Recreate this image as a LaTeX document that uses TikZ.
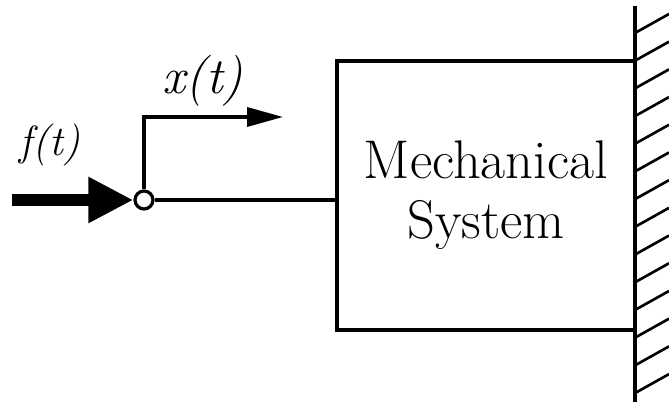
\documentclass[tikz,border=0pt]{standalone}
\usepackage{tikz}
\usetikzlibrary{arrows.meta, positioning, calc}

\begin{document}
\begin{tikzpicture}[
  sysbox/.style={draw, line width=1.8pt, minimum width=5.96cm, minimum height=5.38cm,
              font=\fontsize{31}{34}\selectfont, align=center},
  junc/.style={draw, circle, fill=white, line width=1.8pt, minimum size=0.36cm, inner sep=0pt},
  sig/.style={line width=1.8pt},
  arr/.style={-{Triangle[length=0.72cm, width=0.38cm]}, line width=2pt},
  bigarr/.style={-{Triangle[length=0.9cm, width=0.86cm]}, line width=6.8pt},
  lbl/.style={font=\fontsize{29}{34}\selectfont\itshape, inner sep=0pt},
  wall/.style={line width=2.4pt},
  hatch/.style={line width=1.5pt}
]
  \useasboundingbox (0,0) rectangle (13.38,8.06);

  % Block
  \node[sysbox] (sys) at (9.72,4.15) {Mechanical\\System};

  % Input force and displacement
  \node[junc] (jn) at (2.88,4.06) {};
  \coordinate (fin) at (0.24,4.06);
  \coordinate (xend) at (5.66,5.72);

  \draw[bigarr] (fin) -- (jn);
  \draw[sig] (jn) -- (jn -| sys.west);
  \draw[arr] (jn) |- (xend);

  \node[lbl] (xlbl) at (4.06,6.44) {x(t)};
  \node[lbl, font=\fontsize{24}{28}\selectfont\itshape] (flbl) at (1.0,5.16) {f(t)};

  % Wall
  \coordinate (wtop) at (12.70,7.94);
  \coordinate (wbot) at (12.70,0.02);
  \draw[wall] (wtop) -- (wbot);
  \foreach \k in {0,...,13}
    \draw[hatch] ($(12.70,7.40)-(0,0.554*\k)$) -- ++(0.68,0.38);
\end{tikzpicture}
\end{document}
